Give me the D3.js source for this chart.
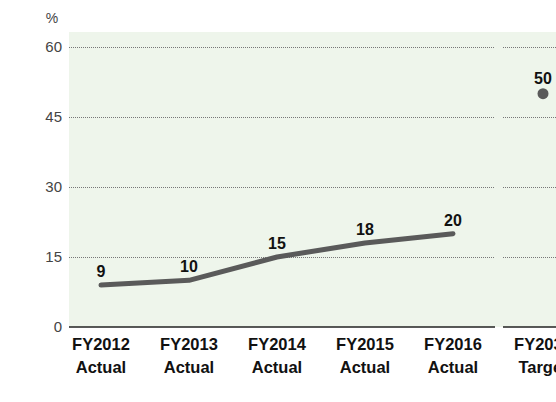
<!DOCTYPE html>
<html><head><meta charset="utf-8">
<script src="https://cdn.jsdelivr.net/npm/d3@7"></script>
<style>body{margin:0;background:#fff}svg{display:block;font-family:"Liberation Sans",Arial,Helvetica,sans-serif}</style>
</head><body><svg id="c" width="556" height="402"></svg>
<script>
const actualCats = ["FY2012\nActual","FY2013\nActual","FY2014\nActual","FY2015\nActual","FY2016\nActual"];
const actualVals = [9,10,15,18,20];
const targetCats = ["FY2030\nTarget"];
const targetVals = [50];
const yTicks = [0,15,30,45,60];

const svg = d3.select("#c");
const y = d3.scaleLinear().domain([0,60]).range([327,47]);
const x1 = d3.scalePoint().domain(actualCats).range([101,453]);
const x2 = d3.scalePoint().domain(targetCats).range([543,543]);
const p1 = [69,495], p2 = [503,620];

svg.append("rect").attr("x",69).attr("y",32).attr("width",556-69).attr("height",y(0)-32).attr("fill","#eef5eb");

// grid
[p1,p2].forEach(p=>{
  svg.append("g").selectAll("line").data(yTicks.filter(d=>d>0)).join("line")
    .attr("x1",p[0]).attr("x2",p[1]).attr("y1",d=>y(d)+0.5).attr("y2",d=>y(d)+0.5)
    .attr("stroke","#777").attr("stroke-width",1).attr("stroke-dasharray","1,1");
  svg.append("line").attr("x1",p[0]).attr("x2",p[1]).attr("y1",y(0)).attr("y2",y(0))
    .attr("stroke","#222").attr("stroke-width",1.5);
});

// y axis labels
svg.append("g").selectAll("text").data(yTicks).join("text")
  .attr("x",62).attr("y",d=>y(d)).attr("dy","0.36em").attr("text-anchor","end")
  .attr("font-size",15).attr("fill","#444").text(d=>d);
svg.append("text").attr("x",52).attr("y",23).attr("text-anchor","middle").attr("font-size",14).attr("fill","#444").text("%");

// line
const line = d3.line().x((d,i)=>x1(actualCats[i])).y(d=>y(d));
svg.append("path").datum(actualVals).attr("d",line).attr("fill","none")
  .attr("stroke","#5a5a5a").attr("stroke-width",5).attr("stroke-linecap","round").attr("stroke-linejoin","round");

svg.append("g").selectAll("circle").data(targetVals).join("circle")
  .attr("cx",(d,i)=>x2(targetCats[i])).attr("cy",d=>y(d)).attr("r",5.5).attr("fill","#5a5a5a");

// value labels
svg.append("g").selectAll("text").data(actualVals).join("text")
  .attr("x",(d,i)=>x1(actualCats[i])).attr("y",d=>y(d)-8).attr("text-anchor","middle")
  .attr("font-size",16).attr("font-weight","bold").attr("fill","#111").text(d=>d);
svg.append("g").selectAll("text").data(targetVals).join("text")
  .attr("x",(d,i)=>x2(targetCats[i])).attr("y",d=>y(d)-10).attr("text-anchor","middle")
  .attr("font-size",16).attr("font-weight","bold").attr("fill","#111").text(d=>d);

// category labels
function catLabels(cats, sc){
  const g = svg.append("g").selectAll("text").data(cats).join("text")
    .attr("text-anchor","middle").attr("font-size",16.5).attr("font-weight","bold").attr("fill","#111");
  g.each(function(d){
    const t = d3.select(this);
    d.split("\n").forEach((s,k)=>{
      t.append("tspan").attr("x",sc(d)).attr("y",350+k*22.5).text(s);
    });
  });
}
catLabels(actualCats,x1);
catLabels(targetCats,x2);
</script></body></html>
